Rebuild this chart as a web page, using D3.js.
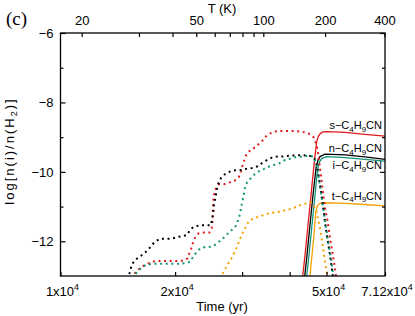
<!DOCTYPE html>
<html>
<head>
<meta charset="utf-8">
<script src="https://cdnjs.cloudflare.com/ajax/libs/d3/7.8.5/d3.min.js"></script>
<style>
body { margin: 0; background: #fff; }
svg text { font-family: "Liberation Sans", Arial, sans-serif; fill: #000; }
</style>
</head>
<body>
<script>
// Global consts
var w = 415;
var h = 316;
var plotLeft = 60.5, plotRight = 385, plotTop = 33, plotBottom = 276;
var tStart = 1e4, tEnd = 7.12e4;
var vMin = -13, vMax = -6;
// warm-up used for the top axis: T = T0 + (Tmax - T0) * (t / tEnd)^2
var T0 = 10, Tmax = 400;

// axes
var timeTicks = [1e4, 2e4, 3e4, 4e4, 5e4, 7.12e4];
var timeLabelTicks = [1e4, 2e4, 5e4, 7.12e4];
var timeLabelText = ["1", "2", "5", "7.12"];
var tempTicks = [20, 30, 40, 50, 60, 70, 80, 90, 100, 200, 400];
var tempLabelTicks = [20, 50, 100, 200, 400];
var majorY = [-6, -8, -10, -12];
var minorY = [-7, -9, -11];

// isomers: s, n, i, t
var isomers = ["s", "n", "i", "t"];
var colors = ["#e3191c", "#000000", "#149479", "#f2a100"];
var labelValues = [-8.77, -9.43, -9.93, -10.81];

// dotted (ice) abundances, [time (yr), log n(i)/n(H2)]
var sIce = [[15320, -13.06], [15480, -12.99], [15790, -12.88], [16240, -12.76], [16670, -12.68], [17110, -12.62],
    [17710, -12.57], [18330, -12.57], [18970, -12.57], [19630, -12.57], [20320, -12.57], [20980, -12.56],
    [21590, -12.49], [21800, -12.35], [22060, -12.20], [22290, -12.04], [22560, -11.90], [23070, -11.77],
    [23820, -11.75], [24600, -11.75], [24960, -11.63], [25050, -11.48], [25110, -11.31], [25140, -11.15],
    [25160, -10.98], [25190, -10.83], [25310, -10.67], [25460, -10.52], [25820, -10.43], [26130, -10.35],
    [26840, -10.36], [27710, -10.31], [28620, -10.26], [29390, -10.16], [29750, -10.00], [29980, -9.87],
    [30290, -9.72], [30580, -9.56], [31090, -9.43], [31980, -9.35], [32890, -9.23], [33770, -9.13],
    [34460, -9.00], [35300, -8.91], [36380, -8.84], [37570, -8.82], [40490, -8.82], [43020, -8.84],
    [44770, -8.89], [46150, -8.99], [47100, -9.23], [47560, -9.51], [48050, -9.90], [48550, -10.28],
    [49020, -10.67], [49530, -11.05], [50350, -11.44], [51050, -11.91], [51770, -12.30], [52620, -12.78],
    [52940, -13.02], [53200, -13.2]];
var nIce = [[14950, -13.09], [15130, -12.99], [15380, -12.68], [15690, -12.54], [16110, -12.45], [16500, -12.37],
    [16980, -12.25], [17320, -12.13], [17710, -12.01], [18260, -11.93], [18930, -11.93], [19510, -11.93],
    [20230, -11.88], [20850, -11.85], [21500, -11.82], [21890, -11.67], [22420, -11.58], [23250, -11.54],
    [23970, -11.54], [24810, -11.54], [25000, -11.39], [25160, -11.22], [25260, -11.07], [25310, -10.93],
    [25510, -10.76], [25660, -10.60], [25820, -10.44], [26040, -10.31], [26450, -10.16], [27160, -10.05],
    [28050, -9.98], [28910, -9.95], [29800, -9.95], [30840, -9.91], [31850, -9.89], [32970, -9.84],
    [33900, -9.74], [34870, -9.66], [35950, -9.59], [37120, -9.56], [38120, -9.56], [40490, -9.53],
    [43020, -9.52], [45230, -9.54], [46430, -9.61], [47100, -9.80], [47760, -10.19], [48350, -10.57],
    [49020, -11.05], [49530, -11.44], [50220, -11.91], [51050, -12.40], [51770, -12.88], [51990, -13.06]];
var iIce = [[15410, -13.06], [15600, -12.99], [15910, -12.88], [16340, -12.76], [16770, -12.68], [17430, -12.65],
    [18000, -12.65], [18620, -12.65], [19280, -12.65], [19910, -12.65], [20600, -12.65], [21330, -12.63],
    [21930, -12.59], [22290, -12.45], [22700, -12.33], [23300, -12.20], [24070, -12.16], [24810, -12.16],
    [25620, -12.09], [26290, -11.98], [26940, -11.88], [27600, -11.76], [28340, -11.65], [28910, -11.55],
    [29260, -11.40], [29570, -11.24], [29750, -11.10], [29930, -10.93], [30160, -10.77], [30350, -10.62],
    [30560, -10.44], [30900, -10.31], [31520, -10.20], [32370, -10.07], [33230, -9.98], [34190, -9.92],
    [35240, -9.85], [36380, -9.80], [37500, -9.76], [38890, -9.66], [41310, -9.58], [44340, -9.54],
    [46150, -9.56], [46910, -9.74], [47620, -10.12], [48230, -10.52], [48940, -11.01], [49530, -11.42],
    [50290, -11.91], [51210, -12.42], [51990, -12.91], [52300, -13.09]];
var tIce = [[26400, -13.09], [26520, -12.99], [26940, -12.85], [27380, -12.70], [27830, -12.57], [28340, -12.43],
    [28740, -12.28], [29140, -12.14], [29490, -11.98], [29930, -11.83], [30290, -11.69], [30770, -11.55],
    [31280, -11.41], [32180, -11.34], [33170, -11.29], [34250, -11.24], [35450, -11.19], [36670, -11.17],
    [37730, -11.15], [39050, -11.10], [40320, -11.07], [41560, -11.01], [42840, -10.95], [44150, -10.91],
    [45510, -10.88], [46340, -10.98], [47100, -11.16], [47560, -11.39], [48050, -11.62], [48550, -11.91],
    [49020, -12.25], [49530, -12.60], [50040, -12.88], [50290, -13.09]];

// solid (gas) abundances
var sGas = [[42970, -13.26], [43280, -13.0], [43890, -12.40], [44690, -11.53], [45510, -10.67], [46340, -9.80],
    [47100, -9.13], [47620, -8.97], [48200, -8.89], [48940, -8.85], [50130, -8.84], [55900, -8.86],
    [63090, -8.92], [71200, -8.97]];
var nGas = [[43490, -13.26], [43810, -13.0], [44420, -12.40], [45230, -11.53], [46060, -10.67], [46910, -9.89],
    [47480, -9.66], [48050, -9.56], [49530, -9.49], [55900, -9.51], [63090, -9.57], [71200, -9.64]];
var iGas = [[44020, -13.26], [44340, -13.0], [44960, -12.40], [45780, -11.53], [46620, -10.67], [47330, -9.95],
    [47910, -9.71], [48640, -9.61], [50040, -9.56], [55900, -9.59], [63090, -9.64], [71200, -9.69]];
var tGas = [[44910, -13.26], [45230, -13.0], [45780, -12.40], [46340, -11.82], [46820, -11.16], [47190, -11.01],
    [47620, -10.93], [48350, -10.90], [49020, -10.89], [55900, -10.91], [63090, -10.94], [71200, -10.98]];

var iceSeries = [sIce, nIce, iIce, tIce];
var gasSeries = [sGas, nGas, iGas, tGas];

var svg, x, y;

createPlot();

function createPlot() {
    svg = d3.select("body").append("svg")
        .attr("width", w)
        .attr("height", h);

    x = d3.scaleLog().domain([tStart, tEnd]).range([plotLeft, plotRight]);
    y = d3.scaleLinear().domain([vMin, vMax]).range([plotBottom, plotTop]);

    svg.append("clipPath").attr("id", "clip")
        .append("rect")
        .attr("x", plotLeft).attr("y", plotTop)
        .attr("width", plotRight - plotLeft).attr("height", plotBottom - plotTop);

    drawLines();
    drawAxes();
    drawLabels();
}

function drawLines() {
    const line = d3.line()
        .x(function (d) { return x(d[0]); })
        .y(function (d) { return y(d[1]); });
    const g = svg.append("g").attr("clip-path", "url(#clip)");

    gasSeries.forEach(function (s, i) {
        g.append("path")
            .attr("d", line(s))
            .attr("fill", "none")
            .attr("stroke", colors[i])
            .attr("stroke-width", 1.3);
    });
    iceSeries.forEach(function (s, i) {
        g.append("path")
            .attr("d", line(s))
            .attr("fill", "none")
            .attr("stroke", colors[i])
            .attr("stroke-width", 2)
            .attr("stroke-dasharray", "2,3.6");
    });
}

// time at which the warm-up reaches temperature T
function timeAtTemp(T) {
    return tEnd * Math.sqrt((T - T0) / (Tmax - T0));
}

function drawAxes() {
    // frame
    svg.append("rect")
        .attr("x", plotLeft).attr("y", plotTop)
        .attr("width", plotRight - plotLeft).attr("height", plotBottom - plotTop)
        .attr("fill", "none").attr("stroke", "#000").attr("stroke-width", 1.3);

    // bottom
    svg.append("g").attr("transform", "translate(0," + plotBottom + ")")
        .call(d3.axisBottom(x).tickValues(timeTicks).tickSize(-4).tickSizeOuter(0).tickFormat(""));
    // top (temperature)
    const tempX = tempTicks.map(function (T) { return x(timeAtTemp(T)); });
    const gt = svg.append("g").attr("transform", "translate(0," + plotTop + ")");
    gt.selectAll("line").data(tempX).enter().append("line")
        .attr("x1", function (d) { return d; }).attr("x2", function (d) { return d; })
        .attr("y1", 0).attr("y2", 4);
    gt.selectAll("text").data(tempLabelTicks).enter().append("text")
        .attr("x", function (d) { return x(timeAtTemp(d)); })
        .attr("y", -8)
        .attr("text-anchor", "middle")
        .attr("font-size", 13)
        .text(function (d) { return d; });
    gt.append("text")
        .attr("x", 222).attr("y", -20)
        .attr("text-anchor", "middle")
        .attr("font-size", 13)
        .text("T (K)");

    // left
    svg.append("g").attr("transform", "translate(" + plotLeft + ",0)")
        .call(d3.axisLeft(y).tickValues(majorY).tickSize(-5).tickSizeOuter(0).tickPadding(7).tickFormat(d3.format("d")));
    svg.append("g").attr("transform", "translate(" + plotLeft + ",0)")
        .call(d3.axisLeft(y).tickValues(minorY).tickSize(-3).tickSizeOuter(0).tickFormat(""));
    // right
    svg.append("g").attr("transform", "translate(" + plotRight + ",0)")
        .call(d3.axisLeft(y).tickValues(majorY).tickSize(5).tickSizeOuter(0).tickFormat(""));
    svg.append("g").attr("transform", "translate(" + plotRight + ",0)")
        .call(d3.axisLeft(y).tickValues(minorY).tickSize(3).tickSizeOuter(0).tickFormat(""));

    svg.selectAll(".domain").remove();
    svg.selectAll(".tick line").attr("stroke", "#000").attr("stroke-width", 1.2);
    gt.selectAll("line").attr("stroke", "#000").attr("stroke-width", 1.2);
    svg.selectAll(".tick text").attr("font-size", 13).attr("font-family", null);

    // bottom tick labels with superscript
    timeLabelTicks.forEach(function (t, i) {
        const txt = svg.append("text")
            .attr("x", x(t) + 2).attr("y", plotBottom + 20)
            .attr("text-anchor", "middle")
            .attr("font-size", 13);
        txt.append("tspan").text(timeLabelText[i] + "x10");
        txt.append("tspan").attr("font-size", 9).attr("dy", -6).text("4");
    });
    svg.append("text")
        .attr("x", 222).attr("y", 311)
        .attr("text-anchor", "middle")
        .attr("font-size", 13)
        .text("Time (yr)");

    // y title
    const yt = svg.append("text")
        .attr("transform", "translate(14,151) rotate(-90)")
        .attr("text-anchor", "middle")
        .attr("font-size", 13)
        .attr("letter-spacing", 2);
    yt.append("tspan").text("log[n(i)/n(H");
    yt.append("tspan").attr("font-size", 9).attr("dy", 3).text("2");
    yt.append("tspan").attr("dy", -3).text(")]");

    // panel tag
    svg.append("text")
        .attr("x", 6).attr("y", 25)
        .attr("font-size", 19)
        .style("font-family", "Liberation Serif, serif")
        .text("(c)");
}

function drawLabels() {
    isomers.forEach(function (p, i) {
        const txt = svg.append("text")
            .attr("x", plotRight - 3).attr("y", y(labelValues[i]))
            .attr("text-anchor", "end")
            .attr("font-size", 11);
        txt.append("tspan").text(p + "\u2212C");
        txt.append("tspan").attr("font-size", 8).attr("dy", 2.5).text("4");
        txt.append("tspan").attr("dy", -2.5).text("H");
        txt.append("tspan").attr("font-size", 8).attr("dy", 2.5).text("9");
        txt.append("tspan").attr("dy", -2.5).text("CN");
    });
}
</script>
</body>
</html>
